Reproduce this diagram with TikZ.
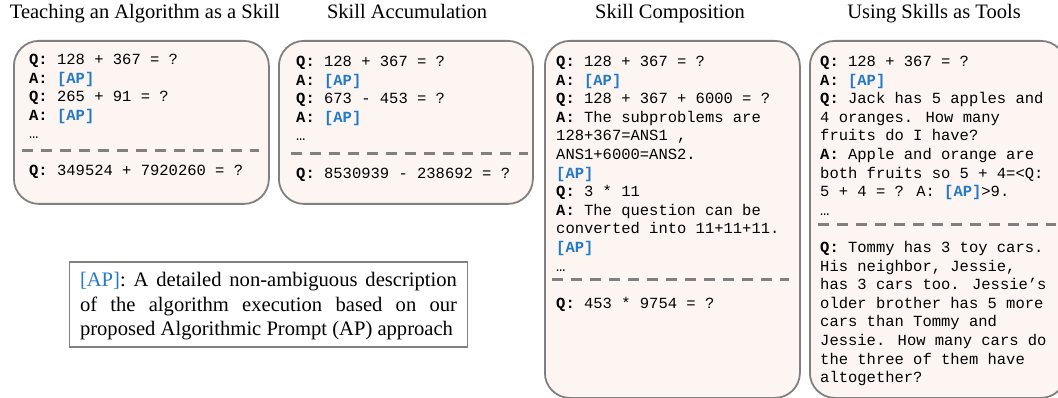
\documentclass[tikz,border=0pt]{standalone}
\usepackage{fontspec}
\setmainfont{Liberation Serif}
\newfontfamily\codefont{Liberation Mono}
\definecolor{boxfill}{RGB}{253,245,242}
\definecolor{boxline}{RGB}{128,128,128}
\definecolor{apblue}{RGB}{36,122,198}
\newcommand{\myAP}{\textcolor{apblue}{\textbf{[AP]}}}
\newcommand{\myQ}{\textbf{Q:}}
\newcommand{\myA}{\textbf{A:}}
\begin{document}
\begin{tikzpicture}[x=1pt,y=-1pt,
  skillbox/.style={draw=boxline, line width=1.8pt, fill=boxfill, rounded corners=25pt, anchor=north west, inner sep=0pt},
  sepline/.style={draw=boxline, line width=3pt, dash pattern=on 11pt off 8pt},
  code/.style={font=\codefont\fontsize{15.5}{18.6}\selectfont, align=left, inner sep=0pt, anchor=base west},
  title/.style={font=\fontsize{20.5}{24}\selectfont, inner sep=0pt, anchor=base},
  legendbox/.style={draw=boxline, line width=1.5pt, text width=377pt, align=justify, inner xsep=10.5pt, inner ysep=0pt, minimum height=85pt, text height=15pt, text depth=50pt, font=\fontsize{20.6}{24.5}\selectfont}
]
\useasboundingbox (0,0) rectangle (1058,398);
% titles
\node[title] (t1) at (145,19) {Teaching an Algorithm as a Skill};
\node[title] (t2) at (407,19) {Skill Accumulation};
\node[title] (t3) at (670,19) {Skill Composition};
\node[title] (t4) at (934,19) {Using Skills as Tools};
% boxes
\node[skillbox, minimum width=255pt, minimum height=163pt] (b1) at (13,40) {};
\node[skillbox, minimum width=254pt, minimum height=163pt] (b2) at (278,40) {};
\node[skillbox, minimum width=255pt, minimum height=357pt] (b3) at (544,40) {};
\node[skillbox, minimum width=256pt, minimum height=357pt] (b4) at (809,40) {};
% box 1 (positions give the baseline of the last line)
\node[code] (c1) at (29,138.9) {\myQ{} 128 + 367 = ?\\ \myA{} \myAP\\ \myQ{} 265 + 91 = ?\\ \myA{} \myAP\\ …};
\coordinate (d1a) at (22,151);
\coordinate (d1b) at (259,151);
\draw[sepline] (d1a) -- (d1b);
\node[code] (e1) at (29,175.5) {\myQ{} 349524 + 7920260 = ?};
% box 2
\node[code] (c2) at (296,140.9) {\myQ{} 128 + 367 = ?\\ \myA{} \myAP\\ \myQ{} 673 - 453 = ?\\ \myA{} \myAP\\ …};
\coordinate (d2a) at (291,153.5);
\coordinate (d2b) at (528,153.5);
\draw[sepline] (d2a) -- (d2b);
\node[code] (e2) at (296,178.5) {\myQ{} 8530939 - 238692 = ?};
% box 3
\node[code] (c3) at (556,271.1) {\myQ{} 128 + 367 = ?\\ \myA{} \myAP\\ \myQ{} 128 + 367 + 6000 = ?\\ \myA{} The subproblems are\\ 128+367=ANS1 ,\\ ANS1+6000=ANS2.\\ \myAP\\ \myQ{} 3 * 11\\ \myA{} The question can be\\ converted into 11+11+11.\\ \myAP\\ …};
\coordinate (d3a) at (552,280);
\coordinate (d3b) at (789,280);
\draw[sepline] (d3a) -- (d3b);
\node[code] (e3) at (556,308.5) {\myQ{} 453 * 9754 = ?};
% box 4
\node[code] (c4) at (820,215.3) {\myQ{} 128 + 367 = ?\\ \myA{} \myAP\\ \myQ{} Jack has 5 apples and\\ 4 oranges. How many\\ fruits do I have?\\ \myA{} Apple and orange are\\ both fruits so 5 + 4=<Q:\\ 5 + 4 = ? A: \myAP>9.\\ …};
\coordinate (d4a) at (818,225);
\coordinate (d4b) at (1056,225);
\draw[sepline] (d4a) -- (d4b);
\node[code] (e4) at (820,382.7) {\myQ{} Tommy has 3 toy cars.\\ His neighbor, Jessie,\\ has 3 cars too. Jessie’s\\ older brother has 5 more\\ cars than Tommy and\\ Jessie. How many cars do\\ the three of them have\\ altogether?};
% legend
\node[legendbox] (leg) at (268.5,304.5) {\textcolor{apblue}{[AP]}: A detailed non-ambiguous description\linebreak of the algorithm execution based on our\linebreak proposed Algorithmic Prompt (AP) approach};
\end{tikzpicture}
\end{document}
